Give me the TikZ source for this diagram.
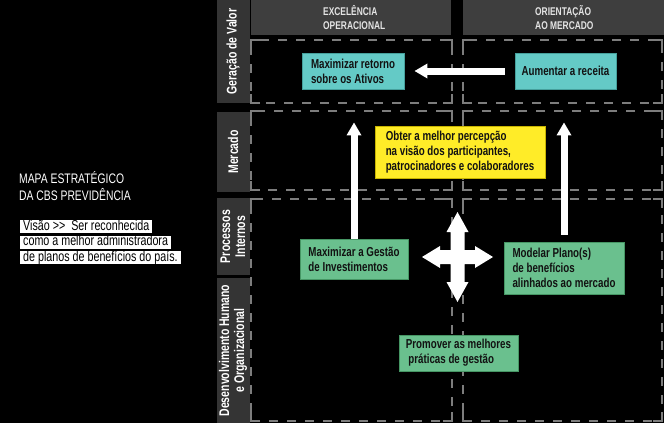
\documentclass[tikz,border=0pt]{standalone}
\usepackage{fontspec}
\setmainfont[FakeStretch=0.82]{Liberation Sans}
\newfontfamily\condf[FakeStretch=0.75]{Liberation Sans}
\usetikzlibrary{arrows.meta}
\definecolor{hdr}{RGB}{62,62,62}
\definecolor{lbl}{RGB}{52,52,52}
\definecolor{hdrtxt}{RGB}{228,228,228}
\definecolor{dashc}{RGB}{125,125,125}
\definecolor{cyanbox}{RGB}{100,202,198}
\definecolor{cyanedge}{RGB}{70,160,156}
\definecolor{greenbox}{RGB}{106,192,142}
\definecolor{greenedge}{RGB}{70,150,100}
\definecolor{yellowbox}{RGB}{255,236,40}
\definecolor{yellowedge}{RGB}{200,180,0}
\definecolor{boxtxt}{RGB}{18,18,18}
\newcommand\mydbox[4]{%
  \draw[dashln] (#1,#2) rectangle (#3,#4);
  \draw[cornerln] (#1,#2+9) -- (#1,#2) -- (#1+9,#2);
  \draw[cornerln] (#3-9,#2) -- (#3,#2) -- (#3,#2+9);
  \draw[cornerln] (#3,#4-9) -- (#3,#4) -- (#3-9,#4);
  \draw[cornerln] (#1+9,#4) -- (#1,#4) -- (#1,#4-9);
}
\begin{document}
\begin{tikzpicture}[x=1pt,y=-1pt,
  dashln/.style={draw=dashc, line width=1.6pt, dash pattern=on 9pt off 9pt, dash phase=-6pt},
  cornerln/.style={draw=dashc, line width=1.6pt},
  rowlabel/.style={fill=lbl, text=white, font=\condf\bfseries\fontsize{14}{15}\selectfont,
    rotate=90, align=center, inner sep=0pt, minimum height=33pt},
  hdrbox/.style={fill=hdr, inner sep=0pt, minimum height=35pt},
  hdrtext/.style={text=hdrtxt, font=\condf\bfseries\fontsize{11.2}{14}\selectfont, align=left, inner sep=0pt, anchor=west},
  box/.style={line width=0.8pt, text=boxtxt, font=\condf\bfseries\fontsize{13}{15}\selectfont,
    align=left, inner xsep=2pt, inner ysep=0pt},
  cyanb/.style={box, fill=cyanbox, draw=cyanedge},
  greenb/.style={box, fill=greenbox, draw=greenedge},
  yellowb/.style={box, fill=yellowbox, draw=yellowedge},
  titletext/.style={text=white, font=\condf\fontsize{13.8}{17}\selectfont, align=left, inner sep=0pt, anchor=west},
  vis/.style={fill=white, text=black, font=\condf\fontsize{14.3}{15}\selectfont, inner xsep=3pt, inner ysep=0pt,
    text height=10pt, text depth=3pt, anchor=west},
  wharrow/.style={draw=white, line width=7pt, -{Triangle[length=13pt,width=14pt]}}
]
\fill[black] (0,0) rectangle (664,423);
\useasboundingbox (0,0) rectangle (664,423);

% left title
\node[titletext] (title) at (19,186) {MAPA ESTRATÉGICO\\DA CBS PREVIDÊNCIA};
\node[vis] (v1) at (20,226.5) {Visão \mbox{>}\mbox{>}\ \ Ser reconhecida};
\node[vis] (v2) at (20,242) {como a melhor administradora};
\node[vis] (v3) at (20,257.5) {de planos de benefícios do país.};

% row labels
\node[rowlabel, minimum width=103pt] (rGV) at (233,51.5) {Geração de Valor};
\node[rowlabel, minimum width=80pt] (rM) at (233,152) {Mercado};
\node[rowlabel, minimum width=77pt] (rPI) at (233,236.5) {Processos\\Internos};
\node[rowlabel, minimum width=145pt] (rDH) at (233,350.5) {Desenvolvimento Humano\\e Organizacional};

% headers
\node[hdrbox, minimum width=200pt] (hEO) at (351,17.5) {};
\node[hdrbox, minimum width=201pt] (hOM) at (563.5,17.5) {};
\node[hdrtext] (tEO) at (323,17.5) {EXCELÊNCIA\\OPERACIONAL};
\node[hdrtext] (tOM) at (535,17.5) {ORIENTAÇÃO\\AO MERCADO};

% dashed regions
\mydbox{251}{40}{452}{103}
\mydbox{463}{40}{662}{103}
\mydbox{251}{111}{452}{190}
\mydbox{463}{111}{662}{190}
\mydbox{251}{199}{452}{421}
\mydbox{463}{199}{662}{421}

% boxes
\node[cyanb, minimum width=102pt, minimum height=36pt] (maxret) at (353,71) {Maximizar retorno\\sobre os Ativos};
\node[cyanb, minimum width=101pt, minimum height=36pt] (aument) at (565.5,71) {Aumentar a receita};
\node[yellowb, minimum width=170pt, minimum height=52pt] (obter) at (460,152) {Obter a melhor percepção\\na visão dos participantes,\\patrocinadores e colaboradores};
\node[greenb, minimum width=108pt, minimum height=40pt] (gest) at (354,259) {Maximizar a Gestão\\de Investimentos};
\node[greenb, minimum width=120pt, minimum height=52pt] (model) at (564,268) {Modelar Plano(s)\\de benefícios\\alinhados ao mercado};
\node[greenb, minimum width=119pt, minimum height=36pt] (prom) at (458.5,353) {Promover as melhores\\\hspace*{2.5pt}práticas de gestão};

% connectors
\coordinate (tipL) at ([yshift=-33pt]maxret.south);
\coordinate (tipR) at ([yshift=-33pt]aument.south);
\draw[wharrow] ([xshift=-10pt]aument.west) -- ([xshift=10pt]maxret.east);
\draw[wharrow] (gest.north) -- (gest.north |- tipL);
\draw[wharrow] ([yshift=7pt]model.north) -- (model.north |- tipR);

% four-way arrow
\begin{scope}[shift={(457.5,257)}]
\fill[white] (0,-45) -- (11,-25) -- (7,-25) -- (7,-7) -- (17.5,-7) -- (17.5,-11) -- (35.5,0)
  -- (17.5,11) -- (17.5,7) -- (7,7) -- (7,25) -- (11,25) -- (0,45) -- (-11,25) -- (-7,25)
  -- (-7,7) -- (-17.5,7) -- (-17.5,11) -- (-35.5,0) -- (-17.5,-11) -- (-17.5,-7) -- (-7,-7)
  -- (-7,-25) -- (-11,-25) -- cycle;
\end{scope}
\end{tikzpicture}
\end{document}
